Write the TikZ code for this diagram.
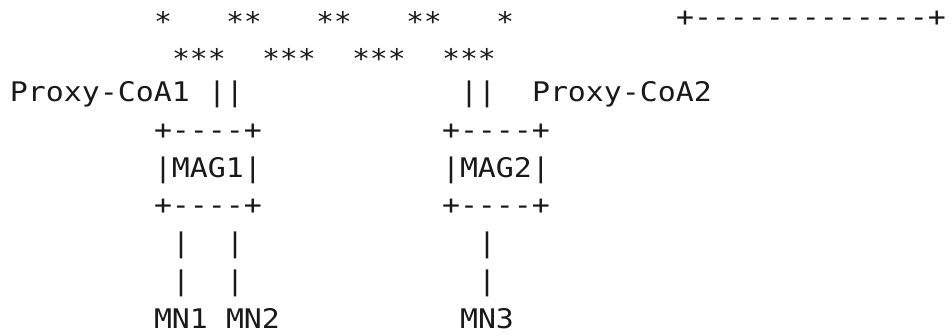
\documentclass[tikz,border=0pt]{standalone}
\usepackage{fontspec}
\setmonofont[FakeStretch=1.107]{DejaVu Sans Mono}
\begin{document}
\begin{tikzpicture}[x=0.5pt,y=-0.5pt,
  ascii/.style={anchor=base west,inner sep=0pt,outer sep=0pt,
    font=\ttfamily\fontsize{13.5pt}{16pt}\selectfont,text=black!90},
  starrow/.style={ascii,yshift=-2.5pt}]
\useasboundingbox (0,0) rectangle (952,335);
\newcommand\seg[5][]{\node[ascii,#1] (#2) at ({10+18*#3},{26.2+37.75*#4}) {#5};}
% row 0
\seg[starrow]{s1}{8}{0}{*}
\seg[starrow]{s2}{12}{0}{**}
\seg[starrow]{s3}{17}{0}{**}
\seg[starrow]{s4}{22}{0}{**}
\seg[starrow]{s5}{27}{0}{*}
\seg{topbox}{37}{0}{+-------------+}
% row 1
\seg[starrow]{t1}{9}{1}{***}
\seg[starrow]{t2}{14}{1}{***}
\seg[starrow]{t3}{19}{1}{***}
\seg[starrow]{t4}{24}{1}{***}
% row 2
\seg{pcoa1}{0}{2}{Proxy-CoA1}
\seg{bar1}{11}{2}{||}
\seg{bar2}{25}{2}{||}
\seg{pcoa2}{29}{2}{Proxy-CoA2}
% MAG boxes
\seg{m1top}{8}{3}{+----+}
\seg{m2top}{24}{3}{+----+}
\seg{mag1}{8}{4}{|MAG1|}
\seg{mag2}{24}{4}{|MAG2|}
\seg{m1bot}{8}{5}{+----+}
\seg{m2bot}{24}{5}{+----+}
% links
\seg{la1}{9}{6}{|}
\seg{lb1}{12}{6}{|}
\seg{lc1}{26}{6}{|}
\seg{la2}{9}{7}{|}
\seg{lb2}{12}{7}{|}
\seg{lc2}{26}{7}{|}
% mobile nodes
\seg{mn1}{8}{8}{MN1}
\seg{mn2}{12}{8}{MN2}
\seg{mn3}{25}{8}{MN3}
\end{tikzpicture}
\end{document}
